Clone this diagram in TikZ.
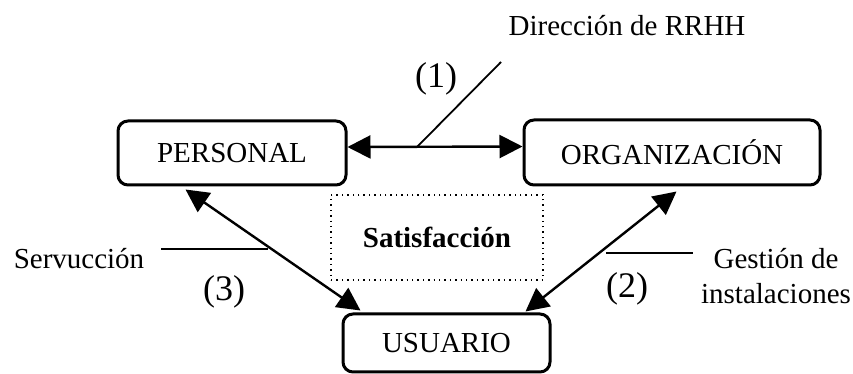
\documentclass[tikz,border=0pt]{standalone}
\usepackage{fontspec}
\setmainfont{Liberation Serif}
\usetikzlibrary{arrows.meta}

\begin{document}
\begin{tikzpicture}[x=0.5pt,y=-0.5pt,
	caja/.style={draw,line width=1.5pt,rounded corners=5pt,inner sep=0pt},
	etiq/.style={font=\fontsize{14.5}{17.5}\selectfont,inner sep=0pt},
	num/.style={font=\fontsize{18}{21}\selectfont,inner sep=0pt},
	flecha/.style={line width=1.2pt,{Triangle[length=11.5pt,width=11.5pt]}-{Triangle[length=11.5pt,width=11.5pt]}},
	guia/.style={line width=0.9pt}]
	
	\useasboundingbox (0,0) rectangle (853,374);
	
	% cajas
	\node[caja,etiq,minimum width=114pt,minimum height=32pt] (per) at (232,153) {PERSONAL};
	\node[caja,etiq,minimum width=148pt,minimum height=32.5pt] (org) at (672,152.5) {ORGANIZACIÓN};
	\node[caja,etiq,minimum width=103.5pt,minimum height=29pt] (usu) at (446.5,343) {USUARIO};
	
	\node[draw,dotted,line width=0.7pt,etiq,minimum width=106pt,minimum height=42.5pt] (sat) at (437,237.5) {\bfseries Satisfacción};
	
	% flechas
	\draw[flecha] ([yshift=3pt]per.east) -- ([yshift=3pt]org.west);
	\draw[flecha] ([xshift=34.5pt,yshift=-1.5pt]per.south west) -- ([xshift=9.5pt,yshift=1pt]usu.north west);
	\draw[flecha] ([xshift=77pt,yshift=-2.5pt]org.south west) -- ([xshift=-13pt,yshift=0.5pt]usu.north east);
	
	% lineas de texto
	\coordinate (d1) at (417,147);
	\coordinate (d2) at (501,62);
	\draw[guia] (d1) -- (d2);
	\coordinate (s1) at (161,249);
	\coordinate (s2) at (268,249);
	\draw[guia] (s1) -- (s2);
	\coordinate (g1) at (606,253);
	\coordinate (g2) at (693,253);
	\draw[guia] (g1) -- (g2);
	
	\node[etiq,anchor=base] (dir) at (627,36) {Dirección de RRHH};
	\node[etiq,anchor=base] (serv) at (79,269) {Servucción};
	\node[etiq,align=center] (gest) at (776,276) {Gestión de\\instalaciones};
	
	\node[num] (n1) at (436,79) {(1)};
	\node[num] (n2) at (627,289) {(2)};
	\node[num] (n3) at (224,292) {(3)};
	
\end{tikzpicture}
\end{document}
